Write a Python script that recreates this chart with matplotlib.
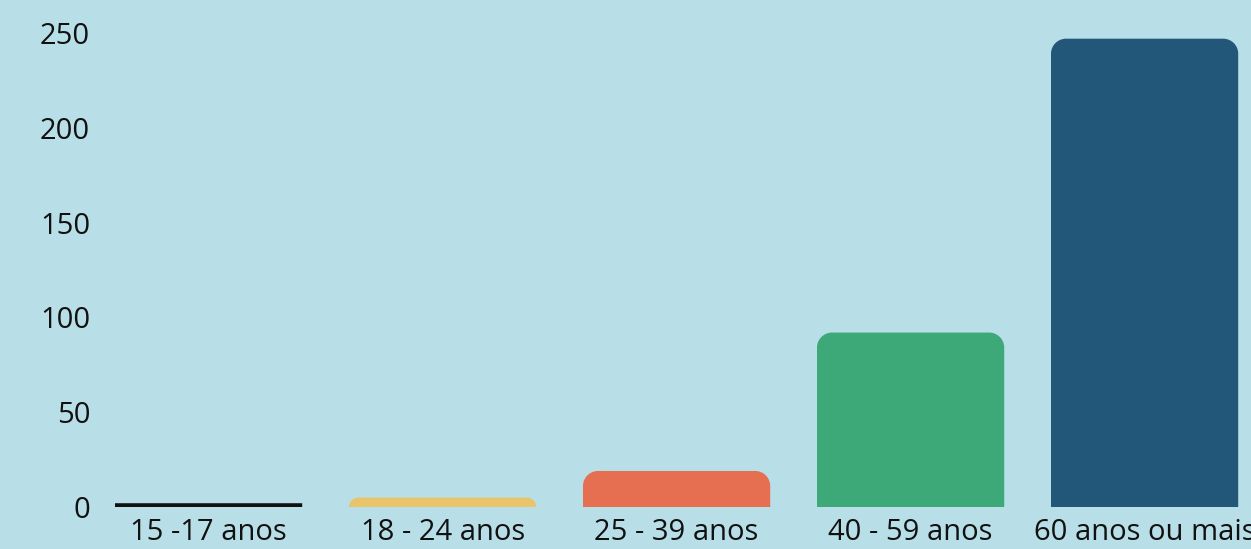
import matplotlib
matplotlib.use("Agg")
import matplotlib.pyplot as plt
from matplotlib.path import Path
from matplotlib.patches import PathPatch

# Data
categories = ["15 -17 anos", "18 - 24 anos", "25 - 39 anos", "40 - 59 anos", "60 anos ou mais"]
values = [2, 5, 19, 92, 247]
colors = ["#111111", "#E9C46A", "#E76F51", "#3DA878", "#22577A"]
y_ticks = [0, 50, 100, 150, 200, 250]

plt.rcParams['font.family'] = ['Open Sans', 'DejaVu Sans']

W, H = 1251, 549
fig = plt.figure(figsize=(W / 100, H / 100), dpi=100)
bg = "#B8DEE7"
fig.patch.set_facecolor(bg)

# axes placed in pixels; right edge runs past the figure like the original
left_px, bottom_px = 91.6, 42
width_px = 234 * 5
height_px = 265 * 474 / 250
ax = fig.add_axes([left_px / W, bottom_px / H, width_px / W, height_px / H])
ax.set_facecolor(bg)
ax.set_xlim(-0.5, 4.5)
ax.set_ylim(0, 265)

bars = ax.bar(range(len(values)), values, width=0.8, color=colors)

# swap plain rectangles for rounded-top shapes
px_x = 234.0
px_y = 474 / 250
radius_px = 15
k = 0.5523
for b in bars:
    x0, y0 = b.get_x(), b.get_y()
    w, h = b.get_width(), b.get_height()
    r_px = min(radius_px, h * px_y)
    if colors[list(bars).index(b)] == "#111111":
        r_px = 0  # the tiny first bar is a flat line
    rx, ry = r_px / px_x, r_px / px_y
    x1, y1 = x0 + w, y0 + h
    verts = [
        (x0, y0), (x0, y1 - ry),
        (x0, y1 - ry + k * ry), (x0 + rx - k * rx, y1), (x0 + rx, y1),
        (x1 - rx, y1),
        (x1 - rx + k * rx, y1), (x1, y1 - ry + k * ry), (x1, y1 - ry),
        (x1, y0), (x0, y0),
    ]
    codes = [Path.MOVETO, Path.LINETO,
             Path.CURVE4, Path.CURVE4, Path.CURVE4,
             Path.LINETO,
             Path.CURVE4, Path.CURVE4, Path.CURVE4,
             Path.LINETO, Path.CLOSEPOLY]
    ax.add_patch(PathPatch(Path(verts, codes), facecolor=b.get_facecolor(),
                           edgecolor="none"))
    b.set_visible(False)

ax.set_xticks(range(len(categories)))
ax.set_xticklabels(categories)
ax.set_yticks(y_ticks)
ax.tick_params(axis='both', length=0, labelsize=21, colors="#111111")
ax.tick_params(axis='x', pad=8)
ax.tick_params(axis='y', pad=1)
for s in ax.spines.values():
    s.set_visible(False)

fig.savefig("out.png", dpi=100, facecolor=fig.get_facecolor())
